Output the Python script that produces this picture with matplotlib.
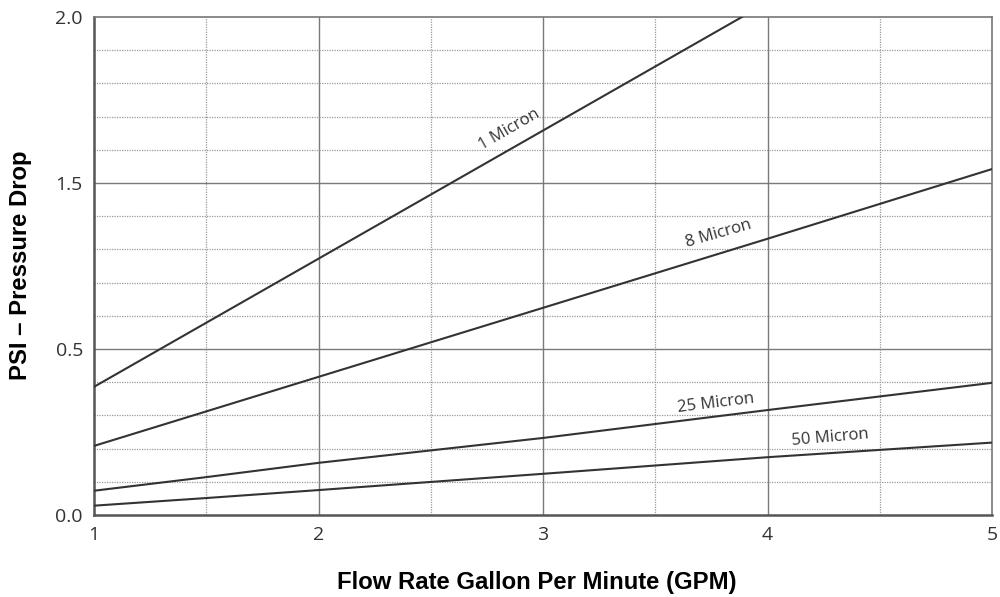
import matplotlib.pyplot as plt
import numpy as np

# data (y in axis units, labels are printed as on the original)
gpm = [1, 1.5, 2, 3, 4, 5]
micron_1 = [0.386, 0.579, 0.772, 1.158, 1.544, 1.93]
micron_8 = [0.208, 0.312, 0.416, 0.624, 0.832, 1.042]
micron_25 = [0.073, 0.114, 0.157, 0.232, 0.316, 0.398]
micron_50 = [0.028, 0.051, 0.075, 0.124, 0.174, 0.218]

series = [
    ("1 Micron", micron_1, (2.85, 1.16, 30)),
    ("8 Micron", micron_8, (3.78, 0.848, 16)),
    ("25 Micron", micron_25, (3.77, 0.336, 7)),
    ("50 Micron", micron_50, (4.28, 0.234, 5)),
]

ytick_pos = [0, 0.5, 1.0, 1.5]
ytick_lab = ["0.0", "0.5", "1.5", "2.0"]
xtick_pos = [1, 2, 3, 4, 5]

fig = plt.figure(figsize=(10, 5.97), dpi=100)
ax = fig.add_axes([0.094, 0.1374, 0.898, 0.8341])

# grid
for x in np.arange(1.5, 5, 0.5):
    if x % 1 == 0:
        ax.axvline(x, color="#7a7a7a", lw=1.0, zorder=1)
    else:
        ax.axvline(x, color="#9a9a9a", lw=0.9, ls=(0, (1, 1)), zorder=1)
for y in np.arange(0.1, 1.5, 0.1):
    y = round(y, 2)
    if abs(y - 0.5) < 1e-6 or abs(y - 1.0) < 1e-6:
        ax.axhline(y, color="#7a7a7a", lw=1.0, zorder=1)
    else:
        ax.axhline(y, color="#9a9a9a", lw=0.9, ls=(0, (1, 1)), zorder=1)

for name, vals, (tx, ty, rot) in series:
    ax.plot(gpm, vals, color="#333333", lw=1.5, zorder=3, clip_on=True)
    ax.text(tx, ty, name, rotation=rot, ha="center", va="center",
            fontsize=12, color="#333333", family="Open Sans",
            rotation_mode="anchor", zorder=4)

ax.set_xlim(1, 5)
ax.set_ylim(0, 1.5)
ax.set_xticks(xtick_pos)
ax.set_xticklabels([str(x) for x in xtick_pos], family="Open Sans", fontsize=14, color="#333333")
ax.set_yticks(ytick_pos)
ax.set_yticklabels(ytick_lab, family="Open Sans", fontsize=14, color="#333333")
ax.tick_params(length=0)
ax.tick_params(axis="x", pad=8)
ax.tick_params(axis="y", pad=8)

for side in ["left", "bottom"]:
    ax.spines[side].set_color("#555555")
    ax.spines[side].set_linewidth(1.8)
for side in ["top", "right"]:
    ax.spines[side].set_color("#777777")
    ax.spines[side].set_linewidth(1.2)

fig.text(0.537, 0.025, "Flow Rate Gallon Per Minute (GPM)", ha="center", va="center",
         fontsize=17.2, fontweight="bold", family="Liberation Sans")
fig.text(0.021, 0.555, "PSI \u2013 Pressure Drop", ha="center", va="center", rotation=90,
         fontsize=17.2, fontweight="bold", family="Liberation Sans")

fig.savefig("out.png", dpi=100)
